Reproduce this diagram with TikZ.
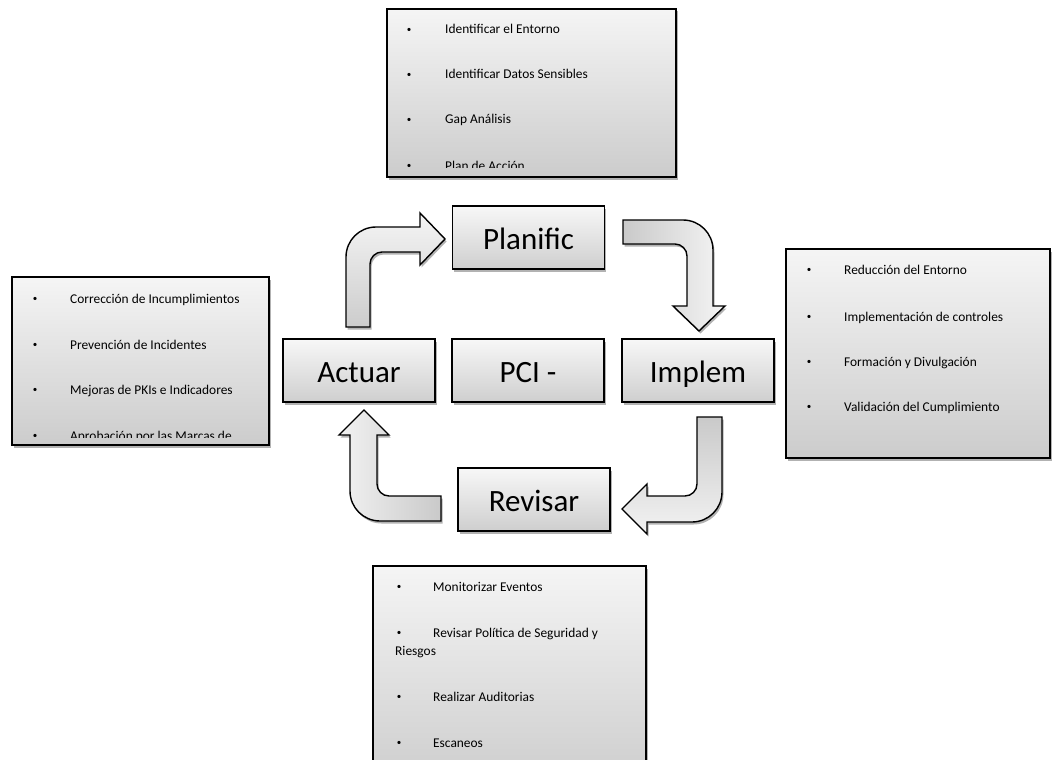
\documentclass[tikz,border=0pt]{standalone}
\usepackage{fontspec}
\setmainfont{Carlito}
\usetikzlibrary{shadows}
\newcommand\bitem[5]{\node[bul] (#1b) at (#2,#4-1.5) {•};\node[itemtxt] (#1) at (#3,#4) {#5};}
\begin{document}
\begin{tikzpicture}[x=1pt,y=-1pt,
  shad/.style={drop shadow={shadow xshift=1.5pt,shadow yshift=-2.5pt,opacity=0.3,fill=black}},
  bigbox/.style={draw=black,line width=1.6pt,top color=gray!6,bottom color=gray!38,
    minimum width=152pt,minimum height=63pt,inner sep=0pt,
    font=\fontsize{31}{36}\selectfont,text height=27pt,text depth=3pt,shad},
  listbox/.style={draw=black,line width=2.4pt,top color=gray!8,bottom color=gray!40,
    inner sep=0pt,shad},
  itemtxt/.style={anchor=base west,font=\fontsize{13.4}{16}\selectfont,inner sep=0pt},
  bul/.style={anchor=base,font=\fontsize{9}{10}\selectfont,inner sep=0pt},
  blk/.style={draw=black,line width=1.4pt,shad}
]
\clip (0,0) rectangle (1053,760);
\fill[white] (0,0) rectangle (1053,760);

% block arrows
\draw[blk,top color=gray!8,bottom color=gray!40]
  (346,327) -- (346,257) .. controls (346,240.4) and (359.4,227) .. (376,227)
  -- (420,227) -- (420,213) -- (445,239) -- (420,265) -- (420,252) -- (382,252)
  .. controls (375.4,252) and (370,257.4) .. (370,264) -- (370,327) -- cycle;
\draw[blk,left color=gray!42,right color=gray!8]
  (623,220) -- (683,220) .. controls (699.6,220) and (713,233.4) .. (713,250)
  -- (713,306) -- (725,306) -- (699,331) -- (673,306) -- (687,306) -- (687,256)
  .. controls (687,249.4) and (681.6,244) .. (675,244) -- (623,244) -- cycle;
\draw[blk,top color=gray!42,bottom color=gray!10]
  (697,417) -- (722,417) -- (722,492) .. controls (722,508.6) and (708.6,522) .. (692,522)
  -- (647,522) -- (647,534) -- (622,509) -- (647,484) -- (647,496) -- (685,496)
  .. controls (691.6,496) and (697,490.6) .. (697,484) -- cycle;
\draw[blk,right color=gray!42,left color=gray!10]
  (441,496) -- (389,496) .. controls (382.4,496) and (377,490.6) .. (377,484)
  -- (377,435) -- (389,435) -- (364,410) -- (339,435) -- (350,435) -- (350,491)
  .. controls (350,507.6) and (363.4,521) .. (380,521) -- (441,521) -- cycle;

% central boxes
\node[bigbox] (plan) at (528.5,237.5) {Planific};
\node[bigbox] (act) at (359,370.5) {Actuar};
\node[bigbox] (pci) at (528,370.5) {PCI -};
\node[bigbox] (imp) at (698,370.5) {Implem};
\node[bigbox] (rev) at (534,499.5) {Revisar};

% top list box
\node[listbox,minimum width=289pt,minimum height=168pt] (tbox) at (531.5,93) {};
\begin{scope}
\clip (388,10) rectangle (675,167);
\bitem{ta}{409}{445}{34}{Identificar el Entorno}
\bitem{tb}{409}{445}{79}{Identificar Datos Sensibles}
\bitem{tc}{409}{445}{124}{Gap Análisis}
\bitem{td}{409}{445}{170}{Plan de Acción}
\end{scope}

% left list box
\node[listbox,minimum width=257pt,minimum height=168pt] (lbox) at (140.5,361) {};
\begin{scope}
\clip (13,278) rectangle (268,437);
\bitem{la}{35}{70}{303}{Corrección de Incumplimientos}
\bitem{lb}{35}{70}{349}{Prevención de Incidentes}
\bitem{lc}{35}{70}{394}{Mejoras de PKIs e Indicadores}
\bitem{ld}{35}{70}{440}{Aprobación por las Marcas de}
\end{scope}

% right list box
\node[listbox,minimum width=264pt,minimum height=209pt] (rbox) at (918,353.5) {};
\begin{scope}
\clip (787,250) rectangle (1049,449);
\bitem{ra}{809}{844}{274}{Reducción del Entorno}
\bitem{rb}{809}{844}{321}{Implementación de controles}
\bitem{rc}{809}{844}{366}{Formación y Divulgación}
\bitem{rd}{809}{844}{411}{Validación del Cumplimiento}
\end{scope}

% bottom list box
\node[listbox,minimum width=273pt,minimum height=224pt] (bbox) at (509.5,678) {};
\bitem{ba}{399}{433}{591}{Monitorizar Eventos}
\bitem{bb}{399}{433}{637}{Revisar Política de Seguridad y}
\node[itemtxt] (bb2) at (395,655) {Riesgos};
\bitem{bc}{399}{433}{701}{Realizar Auditorias}
\bitem{bd}{399}{433}{747}{Escaneos}
\end{tikzpicture}
\end{document}
